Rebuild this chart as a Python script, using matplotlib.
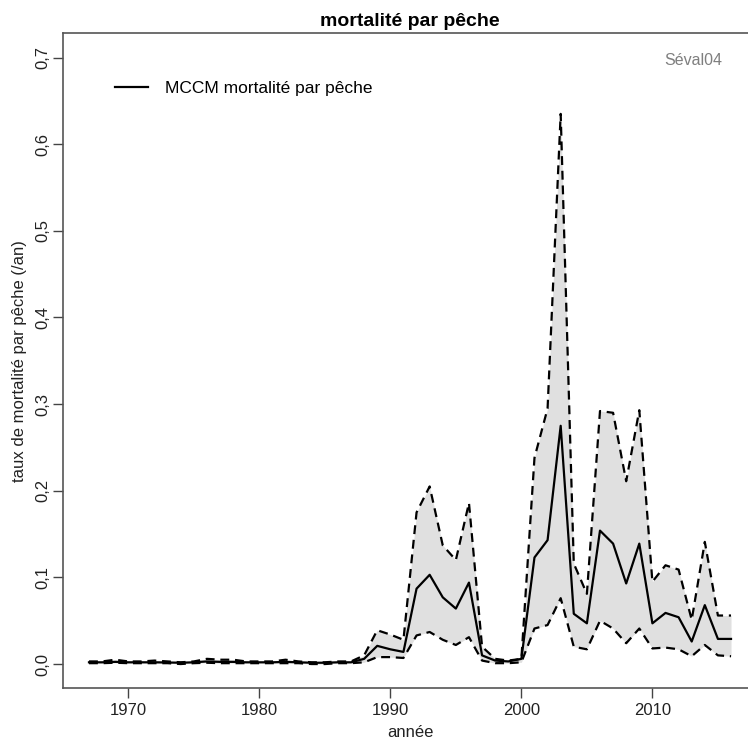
import numpy as np
import matplotlib
matplotlib.use("Agg")
import matplotlib.pyplot as plt

plt.rcParams['font.family'] = ['Liberation Sans', 'DejaVu Sans']

years = np.arange(1967, 2017)

median = [0.002, 0.002, 0.0025, 0.002, 0.002, 0.002, 0.0018, 0.0015, 0.002, 0.003,
          0.0025, 0.0025, 0.002, 0.002, 0.002, 0.0025, 0.002, 0.0015, 0.0015, 0.002,
          0.002, 0.006, 0.021, 0.017, 0.014, 0.087, 0.103, 0.077, 0.064, 0.094,
          0.010, 0.004, 0.003, 0.006, 0.123, 0.143, 0.275, 0.058, 0.047, 0.154,
          0.139, 0.093, 0.139, 0.047, 0.059, 0.054, 0.026, 0.068, 0.029, 0.029]

upper = [0.003, 0.003, 0.005, 0.003, 0.003, 0.004, 0.003, 0.002, 0.003, 0.006,
         0.005, 0.005, 0.003, 0.003, 0.003, 0.005, 0.003, 0.002, 0.002, 0.003,
         0.003, 0.010, 0.039, 0.034, 0.028, 0.175, 0.205, 0.137, 0.120, 0.186,
         0.020, 0.006, 0.004, 0.006, 0.238, 0.295, 0.635, 0.116, 0.081, 0.292,
         0.290, 0.211, 0.293, 0.095, 0.114, 0.109, 0.051, 0.141, 0.056, 0.056]

lower = [0.001, 0.001, 0.0015, 0.001, 0.001, 0.001, 0.001, 0.0, 0.001, 0.0015,
         0.001, 0.001, 0.001, 0.001, 0.001, 0.001, 0.001, 0.0, 0.0, 0.001,
         0.001, 0.002, 0.008, 0.008, 0.007, 0.033, 0.037, 0.028, 0.022, 0.031,
         0.004, 0.001, 0.001, 0.002, 0.041, 0.045, 0.076, 0.020, 0.017, 0.050,
         0.041, 0.024, 0.041, 0.018, 0.019, 0.017, 0.009, 0.022, 0.010, 0.009]

xticks = [1970, 1980, 1990, 2000, 2010]
yticks = [0.0, 0.1, 0.2, 0.3, 0.4, 0.5, 0.6, 0.7]
ytick_labels = ["0,0", "0,1", "0,2", "0,3", "0,4", "0,5", "0,6", "0,7"]

W, H = 748, 742
fig = plt.figure(figsize=(W / 100, H / 100), dpi=100)
left, right, top, bottom = 63.3, 756.7, 33.3, 688.3
ax = fig.add_axes([left / W, (H - bottom) / H, (right - left) / W, (bottom - top) / H])

ax.fill_between(years, lower, upper, color='#e0e0e0', linewidth=0)
ax.plot(years, upper, color='black', lw=1.6, dashes=(4, 2.6))
ax.plot(years, lower, color='black', lw=1.6, dashes=(4, 2.6))
ax.plot(years, median, color='black', lw=1.6, label='MCCM mortalité par pêche')

ax.set_xlim(1965.04, 2017.96)
ax.set_ylim(-0.028, 0.728)
ax.set_xticks(xticks)
ax.set_xticklabels([str(x) for x in xticks], fontsize=12, color='#222222')
ax.set_yticks(yticks)
ax.set_yticklabels(ytick_labels, fontsize=12, rotation=90, va='center', color='#222222')
ax.tick_params(direction='out', length=7.5, width=1, color='#444444')
ax.tick_params(axis='x', pad=3)
ax.tick_params(axis='y', pad=2)

for s in ax.spines.values():
    s.set_color('#555555')
    s.set_linewidth(1.2)

ax.set_xlabel('année', fontsize=12, color='#222222', labelpad=5)
ax.set_ylabel('taux de mortalité par pêche (/an)', fontsize=12, color='#222222', labelpad=6)
ax.set_title('mortalité par pêche', fontsize=14, fontweight='bold', pad=5)

ax.text(0.95, 0.959, 'Séval04', transform=ax.transAxes, ha='right', va='center',
        fontsize=11.5, color='#7f7f7f')

ax.legend(loc='center left', bbox_to_anchor=((115 - left) / (right - left), (bottom - 88) / (bottom - top)),
          frameon=False, fontsize=12.5, handlelength=1.9, handletextpad=1.0,
          borderpad=0, borderaxespad=0)

fig.savefig('out.png', dpi=100)
